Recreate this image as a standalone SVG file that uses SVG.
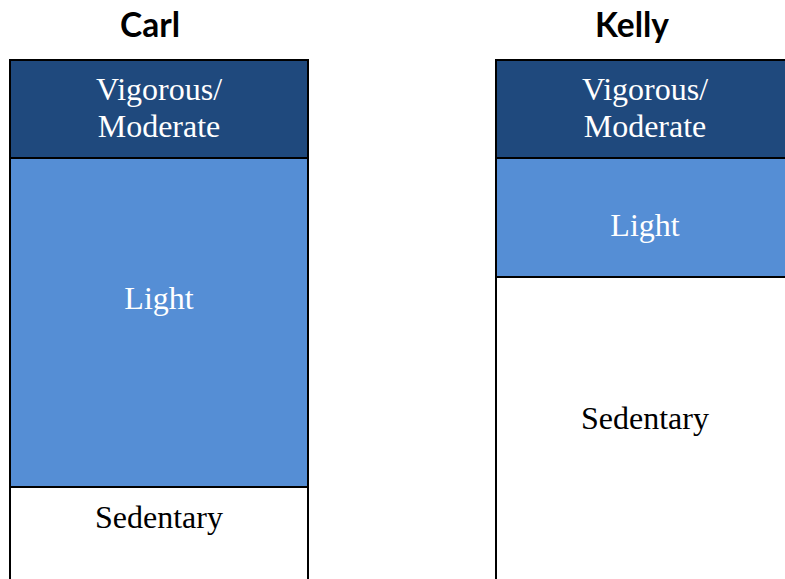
<svg xmlns="http://www.w3.org/2000/svg" width="785" height="579" viewBox="0 0 785 579">
<style>
.title{font-family:Lato,"Open Sans","Liberation Sans",sans-serif;font-weight:bold;font-size:33.5px;fill:#000;text-anchor:middle}
.lbl{font-family:'Liberation Serif','Times New Roman',serif;font-size:32px;text-anchor:middle}
.w{fill:#fff}
.k{fill:#000}
.seg{stroke:#000;stroke-width:2}
.vig{fill:#1F497D}
.light{fill:#558ED5}
.sed{fill:#fff}
</style>
<rect width="785" height="579" fill="#fff"/>
<g id="carl">
<text class="title" x="150" y="37">Carl</text>
<rect class="seg sed" x="10" y="487" width="298" height="100"/>
<rect class="seg light" x="10" y="158" width="298" height="329"/>
<rect class="seg vig" x="10" y="60" width="298" height="98"/>
<text class="lbl w" x="159" y="100">Vigorous/</text>
<text class="lbl w" x="159" y="137">Moderate</text>
<text class="lbl w" x="159" y="309">Light</text>
<text class="lbl k" x="159" y="528">Sedentary</text>
</g>
<g id="kelly">
<text class="title" x="632" y="37">Kelly</text>
<rect class="seg sed" x="496" y="277" width="298" height="310"/>
<rect class="seg light" x="496" y="158" width="298" height="119"/>
<rect class="seg vig" x="496" y="60" width="298" height="98"/>
<text class="lbl w" x="645" y="100">Vigorous/</text>
<text class="lbl w" x="645" y="137">Moderate</text>
<text class="lbl w" x="645" y="236">Light</text>
<text class="lbl k" x="645" y="429">Sedentary</text>
</g>
<g id="connectors"></g>
</svg>
